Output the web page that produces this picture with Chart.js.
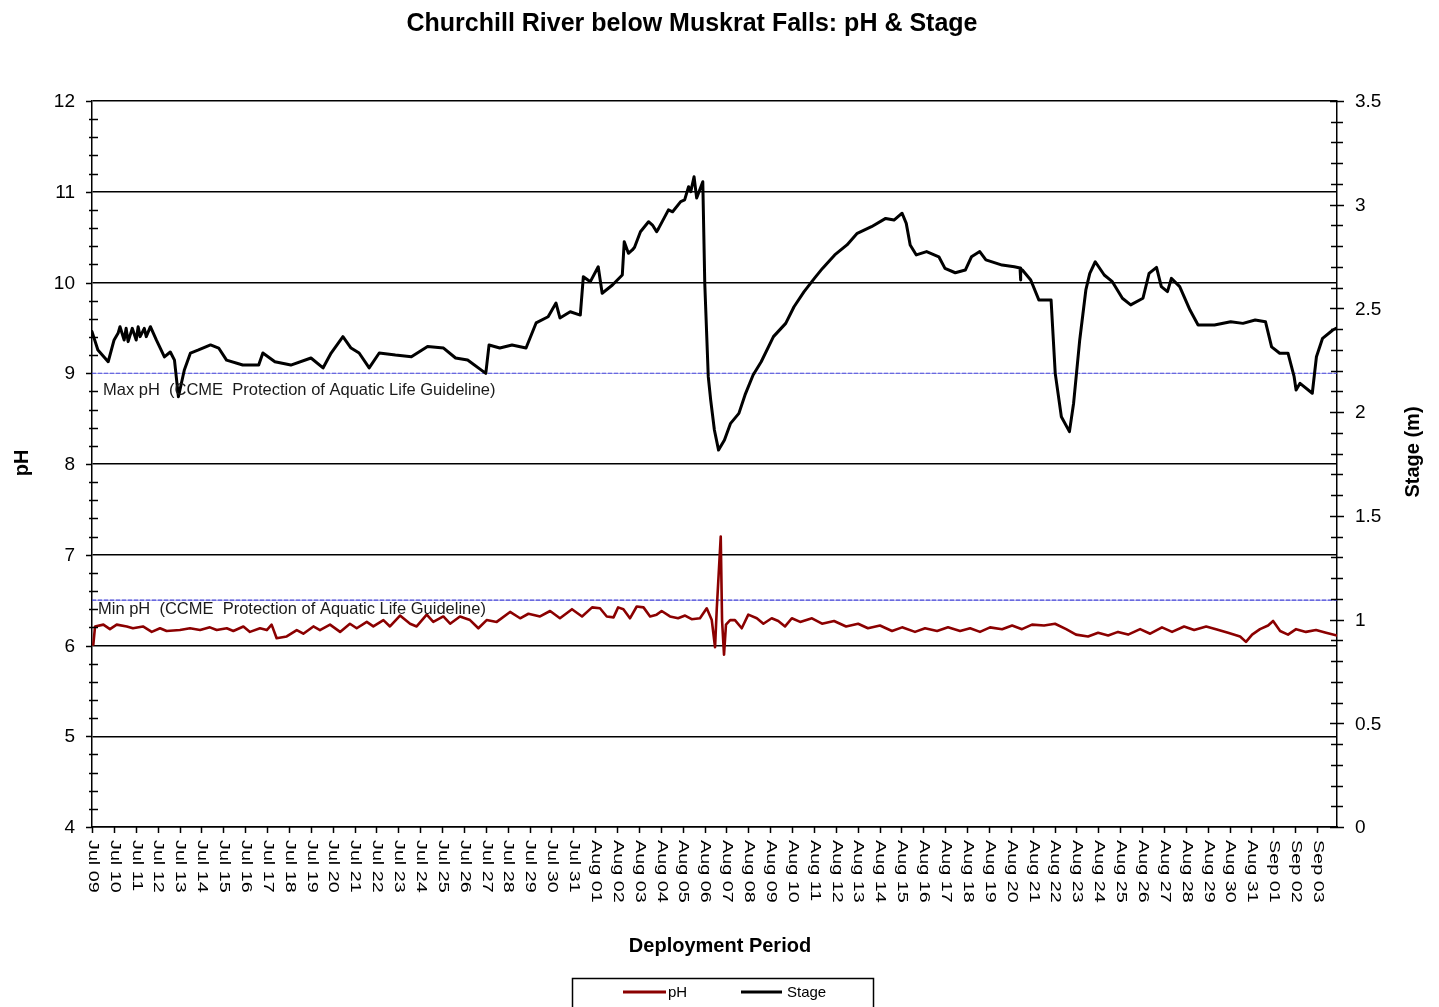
<!DOCTYPE html>
<html>
<head>
<meta charset="utf-8">
<title>Churchill River below Muskrat Falls: pH &amp; Stage</title>
<script src="https://cdn.jsdelivr.net/npm/chart.js@4.4.1/dist/chart.umd.min.js"></script>
<style>
  html, body { margin: 0; padding: 0; background: #fff; }
  canvas { display: block; }
</style>
</head>
<body>
<canvas id="chart" width="1439" height="1007"></canvas>
<script>
// Day labels, one per tick, starting Jul 09 (day 0)
const dayLabels = [
  'Jul 09','Jul 10','Jul 11','Jul 12','Jul 13','Jul 14','Jul 15','Jul 16','Jul 17','Jul 18',
  'Jul 19','Jul 20','Jul 21','Jul 22','Jul 23','Jul 24','Jul 25','Jul 26','Jul 27','Jul 28',
  'Jul 29','Jul 30','Jul 31','Aug 01','Aug 02','Aug 03','Aug 04','Aug 05','Aug 06','Aug 07',
  'Aug 08','Aug 09','Aug 10','Aug 11','Aug 12','Aug 13','Aug 14','Aug 15','Aug 16','Aug 17',
  'Aug 18','Aug 19','Aug 20','Aug 21','Aug 22','Aug 23','Aug 24','Aug 25','Aug 26','Aug 27',
  'Aug 28','Aug 29','Aug 30','Aug 31','Sep 01','Sep 02','Sep 03'
];
const periodEnd = 56.91; // days after Jul 09 00:00

// Stage (m): elapsed days and water level
const stageDays = [
  0.00,0.27,0.74,1.01,1.19,1.28,1.47,1.56,1.65,1.84,2.02,2.11,2.20,2.39,2.48,2.67,2.94,3.31,3.58,3.77,
  3.95,4.22,4.50,4.87,5.42,5.79,6.15,6.89,7.62,7.81,8.36,9.09,10.01,10.56,10.93,11.47,11.84,12.21,12.67,13.13,
  13.87,14.60,15.34,16.07,16.62,17.17,18.00,18.15,18.64,19.20,19.84,20.30,20.85,21.21,21.39,21.86,22.32,22.46,22.78,23.14,
  23.32,23.79,24.24,24.33,24.52,24.70,24.80,25.07,25.44,25.62,25.81,25.90,26.35,26.54,26.91,27.09,27.27,27.37,27.52,27.64,
  27.92,28.01,28.17,28.28,28.45,28.64,28.91,
  29.19,29.57,29.85,30.22,30.59,31.15,31.71,32.09,32.55,33.02,33.39,33.95,34.51,34.98,35.63,36.28,36.66,37.03,37.22,37.40,
  37.68,38.15,38.71,38.99,39.46,39.92,40.20,40.58,40.86,41.60,42.16,42.42,42.44,42.46,42.53,42.91,43.28,43.84,44.03,44.31,
  44.68,44.87,45.15,45.43,45.61,45.86,46.27,46.64,47.10,47.48,48.04,48.32,48.66,48.88,49.16,49.34,49.72,50.19,50.56,51.31,
  52.05,52.61,53.17,53.64,53.92,54.29,54.67,54.95,55.04,55.22,55.78,55.97,56.25,56.72,56.91
];
const stageM = [
  2.388,2.300,2.243,2.348,2.380,2.412,2.348,2.404,2.340,2.404,2.348,2.412,2.364,2.404,2.364,2.412,2.348,2.266,2.290,2.251,
  2.074,2.203,2.285,2.300,2.324,2.309,2.251,2.227,2.227,2.285,2.243,2.227,2.261,2.213,2.285,2.364,2.309,2.285,2.213,2.285,
  2.275,2.267,2.316,2.309,2.261,2.251,2.187,2.324,2.309,2.324,2.309,2.430,2.460,2.526,2.454,2.484,2.468,2.653,2.629,2.701,
  2.573,2.613,2.661,2.822,2.766,2.782,2.795,2.870,2.918,2.902,2.870,2.886,2.975,2.966,3.015,3.023,3.087,3.063,3.135,3.032,
  3.111,2.621,2.171,2.059,1.914,1.817,1.866,
  1.946,1.994,2.083,2.179,2.243,2.364,2.428,2.508,2.581,2.645,2.693,2.758,2.806,2.862,2.894,2.934,2.926,2.959,2.910,2.806,
  2.758,2.774,2.749,2.693,2.672,2.685,2.749,2.774,2.734,2.709,2.701,2.695,2.637,2.690,2.685,2.637,2.541,2.541,2.187,1.978,
  1.906,2.043,2.348,2.589,2.669,2.725,2.661,2.629,2.549,2.517,2.549,2.669,2.698,2.605,2.581,2.645,2.605,2.492,2.420,2.420,
  2.436,2.428,2.444,2.436,2.315,2.284,2.284,2.171,2.107,2.139,2.091,2.267,2.356,2.396,2.406
];

// pH: elapsed days and reading
const phDays = [
  0.06,0.14,0.52,0.82,1.13,1.59,1.87,2.33,2.73,3.11,3.41,4.02,4.48,4.94,5.39,5.70,6.16,6.46,6.92,7.22,
  7.68,7.99,8.21,8.44,8.90,9.36,9.66,10.12,10.42,10.88,11.34,11.79,12.10,12.56,12.86,13.32,13.62,14.08,14.54,14.84,
  15.30,15.60,16.06,16.37,16.82,17.28,17.66,18.04,18.50,19.11,19.57,19.95,20.48,20.94,21.39,21.94,22.40,22.86,23.22,23.53,
  23.84,24.05,24.29,24.59,24.90,25.21,25.51,25.81,26.04,26.42,26.79,27.11,27.41,27.79,28.10,28.33,28.48,28.56,28.74,28.80,
  28.89,28.98,29.17,29.39,29.70,30.00,30.39,30.69,31.07,31.37,31.68,31.99,32.37,32.91,33.37,33.92,34.47,35.02,35.47,36.02,
  36.57,37.03,37.62,38.08,38.63,39.13,39.68,40.14,40.59,41.05,41.60,42.06,42.51,42.97,43.52,44.02,44.53,44.98,45.53,45.99,
  46.45,46.90,47.36,47.91,48.37,48.91,49.37,49.92,50.38,50.93,51.38,51.93,52.48,52.75,53.03,53.39,53.76,53.99,54.31,54.67,
  55.04,55.49,55.95,56.41,56.91
];
const phValues = [
  6.01,6.21,6.23,6.18,6.23,6.21,6.19,6.21,6.15,6.19,6.16,6.17,6.19,6.17,6.20,6.17,6.19,6.16,6.21,6.15,
  6.19,6.17,6.23,6.08,6.10,6.17,6.13,6.21,6.17,6.23,6.15,6.24,6.19,6.26,6.21,6.28,6.21,6.33,6.24,6.21,
  6.34,6.26,6.32,6.24,6.32,6.28,6.19,6.28,6.26,6.37,6.30,6.35,6.32,6.38,6.30,6.40,6.32,6.42,6.41,6.32,
  6.31,6.42,6.40,6.30,6.43,6.42,6.32,6.34,6.38,6.32,6.30,6.33,6.29,6.30,6.41,6.28,5.98,6.41,7.20,6.28,
  5.90,6.23,6.28,6.28,6.19,6.34,6.30,6.24,6.30,6.27,6.21,6.30,6.26,6.30,6.24,6.27,6.21,6.24,6.19,6.22,
  6.16,6.20,6.15,6.19,6.16,6.20,6.16,6.19,6.15,6.20,6.18,6.22,6.18,6.23,6.22,6.24,6.18,6.12,6.10,6.14,
  6.11,6.15,6.12,6.18,6.13,6.20,6.15,6.21,6.17,6.21,6.18,6.14,6.10,6.04,6.12,6.18,6.22,6.27,6.16,6.12,
  6.18,6.15,6.17,6.14,6.11
];

// CCME Protection of Aquatic Life guideline limits
const maxPhGuideline = 9;
const minPhGuideline = 6.5;

const FONT = '"Liberation Sans", Arial, Helvetica, sans-serif';

const toPoints = (xs, ys) => xs.map((d, i) => ({ x: d, y: ys[i] }));
const guideline = v => [{ x: 0, y: v }, { x: periodEnd, y: v }];

// Axis ticks, tick labels, titles, guideline notes and the boxed legend
const decor = {
  id: 'decor',
  afterDraw(chart) {
    const { ctx, chartArea: a, scales } = chart;
    const { x, y, y1 } = scales;
    ctx.save();
    ctx.strokeStyle = '#000';
    ctx.lineWidth = 1.5;
    const line = (x0, y0, x2, y2) => { ctx.beginPath(); ctx.moveTo(x0, y0); ctx.lineTo(x2, y2); ctx.stroke(); };

    // left pH axis: major ticks each unit, minor every 0.2
    for (let k = 0; k <= 40; k++) {
      const v = 4 + k * 0.2;
      const py = Math.round(y.getPixelForValue(v)) + 0.5;
      if (k % 5 === 0) line(a.left - 6, py, a.left, py);
      else line(a.left - 3, py, a.left + 6, py);
    }
    // right stage axis: ticks every 0.1 m
    for (let k = 0; k <= 35; k++) {
      const v = k * 0.1;
      const py = Math.round(y1.getPixelForValue(v)) + 0.5;
      if (k % 5 === 0) line(a.right - 7, py, a.right + 7, py);
      else line(a.right - 6, py, a.right + 6, py);
    }
    // daily ticks on the time axis
    dayLabels.forEach((_, i) => {
      const px = Math.round(x.getPixelForValue(i)) + 0.5;
      line(px, a.bottom, px, a.bottom + 6);
    });

    ctx.fillStyle = '#000';
    // pH tick labels
    ctx.font = '19px ' + FONT;
    ctx.textAlign = 'right';
    ctx.textBaseline = 'middle';
    for (let v = 4; v <= 12; v++) ctx.fillText(String(v), a.left - 17, y.getPixelForValue(v) + 1);
    // stage tick labels
    ctx.textAlign = 'left';
    for (let k = 0; k <= 7; k++) {
      const v = k * 0.5;
      ctx.fillText(String(v), a.right + 18, y1.getPixelForValue(v) + 1);
    }
    // date labels, rotated to read downward, set slightly narrow
    dayLabels.forEach((lab, i) => {
      ctx.save();
      ctx.translate(x.getPixelForValue(i) + 1, a.bottom + 13);
      ctx.rotate(Math.PI / 2);
      ctx.scale(1.04, 0.8);
      ctx.textAlign = 'left';
      ctx.textBaseline = 'middle';
      ctx.fillText(lab, 0, 0);
      ctx.restore();
    });

    // chart title
    ctx.font = 'bold 25px ' + FONT;
    ctx.textAlign = 'center';
    ctx.fillText('Churchill River below Muskrat Falls: pH & Stage', 692, 24);
    // axis titles
    ctx.font = 'bold 20px ' + FONT;
    ctx.fillText('Deployment Period', 720, 946);
    ctx.save();
    ctx.translate(22, 463);
    ctx.rotate(-Math.PI / 2);
    ctx.fillText('pH', 0, 0);
    ctx.restore();
    ctx.save();
    ctx.translate(1413, 452);
    ctx.rotate(-Math.PI / 2);
    ctx.fillText('Stage (m)', 0, 0);
    ctx.restore();

    // guideline notes
    ctx.font = '16.5px ' + FONT;
    ctx.textAlign = 'left';
    ctx.fillStyle = '#1a1a1a';
    ctx.fillText('Max pH  (CCME  Protection of Aquatic Life Guideline)', 103, y.getPixelForValue(maxPhGuideline) + 17);
    ctx.fillText('Min pH  (CCME  Protection of Aquatic Life Guideline)', 98, y.getPixelForValue(minPhGuideline) + 9);

    // legend box
    ctx.lineWidth = 1.5;
    ctx.strokeRect(572.5, 978.5, 301, 40);
    ctx.lineWidth = 3;
    ctx.strokeStyle = '#8b0000';
    line(623, 992, 666, 992);
    ctx.strokeStyle = '#000';
    line(741, 992, 782, 992);
    ctx.fillStyle = '#000';
    ctx.font = '15px ' + FONT;
    ctx.textBaseline = 'middle';
    ctx.fillText('pH', 668, 993);
    ctx.fillText('Stage', 787, 993);
    ctx.restore();
  }
};

new Chart(document.getElementById('chart'), {
  type: 'line',
  data: {
    datasets: [
      {
        label: 'Stage', data: toPoints(stageDays, stageM), yAxisID: 'y1',
        borderColor: '#000', borderWidth: 3, pointRadius: 0, tension: 0, order: 1
      },
      {
        label: 'pH', data: toPoints(phDays, phValues), yAxisID: 'y',
        borderColor: '#8b0000', borderWidth: 2.6, pointRadius: 0, tension: 0, order: 2
      },
      {
        label: 'Max pH', data: guideline(maxPhGuideline), yAxisID: 'y',
        borderColor: '#3a3ad6', borderWidth: 1.2, borderDash: [4, 2], pointRadius: 0, order: 3
      },
      {
        label: 'Min pH', data: guideline(minPhGuideline), yAxisID: 'y',
        borderColor: '#3a3ad6', borderWidth: 1.2, borderDash: [4, 2], pointRadius: 0, order: 3
      }
    ]
  },
  options: {
    responsive: false,
    animation: false,
    layout: { padding: { top: 101, left: 0, right: 0, bottom: 0 } },
    plugins: { legend: { display: false }, title: { display: false }, tooltip: { enabled: false } },
    elements: { line: { borderJoinStyle: 'round', borderCapStyle: 'round' } },
    scales: {
      x: {
        type: 'linear', min: 0, max: periodEnd,
        ticks: { display: false, stepSize: 1 },
        grid: { display: false },
        border: { display: true, color: '#000', width: 1.5 },
        afterFit: s => { s.height = 180; }
      },
      y: {
        position: 'left', min: 4, max: 12,
        ticks: { display: false, stepSize: 1 },
        grid: {
          drawTicks: false,
          color: c => (c.tick && c.tick.value === maxPhGuideline) ? 'rgba(0,0,0,0)' : '#000',
          lineWidth: 1.5
        },
        border: { display: true, color: '#000', width: 1.5 },
        afterFit: s => { s.width = 92; }
      },
      y1: {
        position: 'right', min: 0, max: 3.5,
        ticks: { display: false, stepSize: 0.5 },
        grid: { display: false },
        border: { display: true, color: '#000', width: 1.5 },
        afterFit: s => { s.width = 102; }
      }
    }
  },
  plugins: [decor]
});
</script>
</body>
</html>
